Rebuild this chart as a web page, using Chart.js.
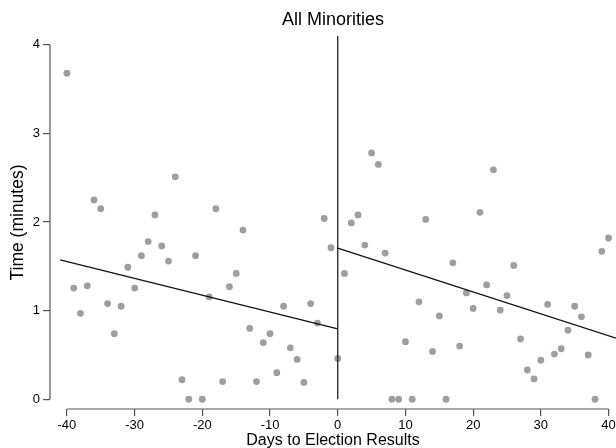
<!DOCTYPE html>
<html>
<head>
<meta charset="utf-8">
<script src="https://cdn.jsdelivr.net/npm/chart.js@4"></script>
<style>
  html, body { margin: 0; padding: 0; background: #fff; overflow: hidden; }
  canvas { display: block; }
</style>
</head>
<body>
<canvas id="rdChart" width="616" height="448"></canvas>
<script>
// one observation per day around the results
const days = [
  -40, -39, -38, -37, -36, -35, -34, -33, -32, -31,
  -30, -29, -28, -27, -26, -25, -24, -23, -22, -21,
  -20, -19, -18, -17, -16, -15, -14, -13, -12, -11,
  -10, -9, -8, -7, -6, -5, -4, -3, -2, -1,
  0, 1, 2, 3, 4, 5, 6, 7, 8, 9,
  10, 11, 12, 13, 14, 15, 16, 17, 18, 19,
  20, 21, 22, 23, 24, 25, 26, 27, 28, 29,
  30, 31, 32, 33, 34, 35, 36, 37, 38, 39, 40
];
const minutes = [
  3.68, 1.255, 0.97, 1.28, 2.25, 2.15, 1.08, 0.74, 1.05, 1.49,
  1.255, 1.62, 1.78, 2.08, 1.73, 1.56, 2.51, 0.22, 0, 1.62,
  0, 1.155, 2.15, 0.20, 1.27, 1.42, 1.91, 0.80, 0.20, 0.64,
  0.74, 0.30, 1.05, 0.58, 0.45, 0.19, 1.08, 0.86, 2.04, 1.71,
  0.46, 1.42, 1.99, 2.08, 1.74, 2.78, 2.65, 1.65, 0, 0,
  0.65, 0, 1.10, 2.03, 0.54, 0.94, 0, 1.54, 0.60, 1.20,
  1.025, 2.11, 1.29, 2.59, 1.005, 1.17, 1.51, 0.68, 0.33, 0.23,
  0.44, 1.07, 0.51, 0.57, 0.78, 1.05, 0.93, 0.50, 0, 1.67, 1.82
];

// fitted lines either side of the cutoff
const fitBeforeX = [-41, 0];
const fitBeforeY = [1.574, 0.795];
const fitAfterX = [0, 41.1];
const fitAfterY = [1.706, 0.69];
const cutoffX = [0, 0];
const cutoffY = [0, 4.1];

const xTicks = [-40, -30, -20, -10, 0, 10, 20, 30, 40];
const yTicks = [0, 1, 2, 3, 4];

const toPoints = (xs, ys) => xs.map((v, i) => ({ x: v, y: ys[i] }));

const fontFamily = '"Liberation Sans", Helvetica, Arial, sans-serif';

// stata style axis lines, only from first to last tick
const tickAxes = {
    id: 'tickAxes',
    afterDraw(chart) {
        const { ctx, scales: { x, y } } = chart;
        ctx.save();
        ctx.strokeStyle = '#555';
        ctx.lineWidth = 1.2;
        ctx.beginPath();
        ctx.moveTo(x.getPixelForValue(xTicks[0]), x.top);
        ctx.lineTo(x.getPixelForValue(xTicks[xTicks.length - 1]), x.top);
        ctx.moveTo(y.right, y.getPixelForValue(yTicks[0]));
        ctx.lineTo(y.right, y.getPixelForValue(yTicks[yTicks.length - 1]));
        ctx.stroke();
        ctx.restore();
    }
};

const lineStyle = {
    type: 'line',
    borderColor: '#111',
    borderWidth: 1.3,
    pointRadius: 0,
    fill: false,
    clip: false,
    order: 0
};

new Chart(document.getElementById('rdChart'), {
    type: 'scatter',
    data: {
        datasets: [
            {
                label: 'Time',
                data: toPoints(days, minutes),
                backgroundColor: '#9e9e9e',
                borderWidth: 0,
                pointRadius: 3.4,
                clip: false,
                order: 1
            },
            { ...lineStyle, label: 'Fit before', data: toPoints(fitBeforeX, fitBeforeY) },
            { ...lineStyle, label: 'Fit after', data: toPoints(fitAfterX, fitAfterY) },
            { ...lineStyle, label: 'Cutoff', data: toPoints(cutoffX, cutoffY), borderColor: '#222' }
        ]
    },
    options: {
        responsive: false,
        animation: false,
        layout: { padding: 0, autoPadding: false },
        plugins: {
            legend: { display: false },
            tooltip: { enabled: false },
            title: {
                display: true,
                text: 'All Minorities',
                fullSize: false,
                color: '#000',
                font: { family: fontFamily, size: 18, weight: 'normal' },
                padding: { top: 9, bottom: 5.4 }
            }
        },
        scales: {
            x: {
                type: 'linear',
                min: -42.5,
                max: 41.1,
                afterBuildTicks: (s) => { s.ticks = xTicks.map(v => ({ value: v })); },
                afterFit: (s) => { s.height = 39; s.paddingLeft = 0; s.paddingRight = 0; },
                border: { display: false },
                grid: { drawOnChartArea: false, drawTicks: true, tickLength: 7, color: '#555', lineWidth: 1.2 },
                ticks: { color: '#000', padding: 2, maxRotation: 0, font: { family: fontFamily, size: 13 } },
                title: {
                    display: true,
                    text: 'Days to Election Results',
                    color: '#000',
                    padding: { top: 0, bottom: -2.5 },
                    font: { family: fontFamily, size: 16 }
                }
            },
            y: {
                type: 'linear',
                min: -0.11,
                max: 4.1,
                afterBuildTicks: (s) => { s.ticks = yTicks.map(v => ({ value: v })); },
                afterFit: (s) => { s.width = 50; s.paddingTop = 0; s.paddingBottom = 0; },
                border: { display: false },
                grid: { drawOnChartArea: false, drawTicks: true, tickLength: 7, color: '#555', lineWidth: 1.2 },
                ticks: { color: '#000', padding: 3, font: { family: fontFamily, size: 13 } },
                title: {
                    display: true,
                    text: 'Time (minutes)',
                    color: '#000',
                    padding: { top: 8, bottom: 0 },
                    font: { family: fontFamily, size: 17.5 }
                }
            }
        }
    },
    plugins: [tickAxes]
});
</script>
</body>
</html>
